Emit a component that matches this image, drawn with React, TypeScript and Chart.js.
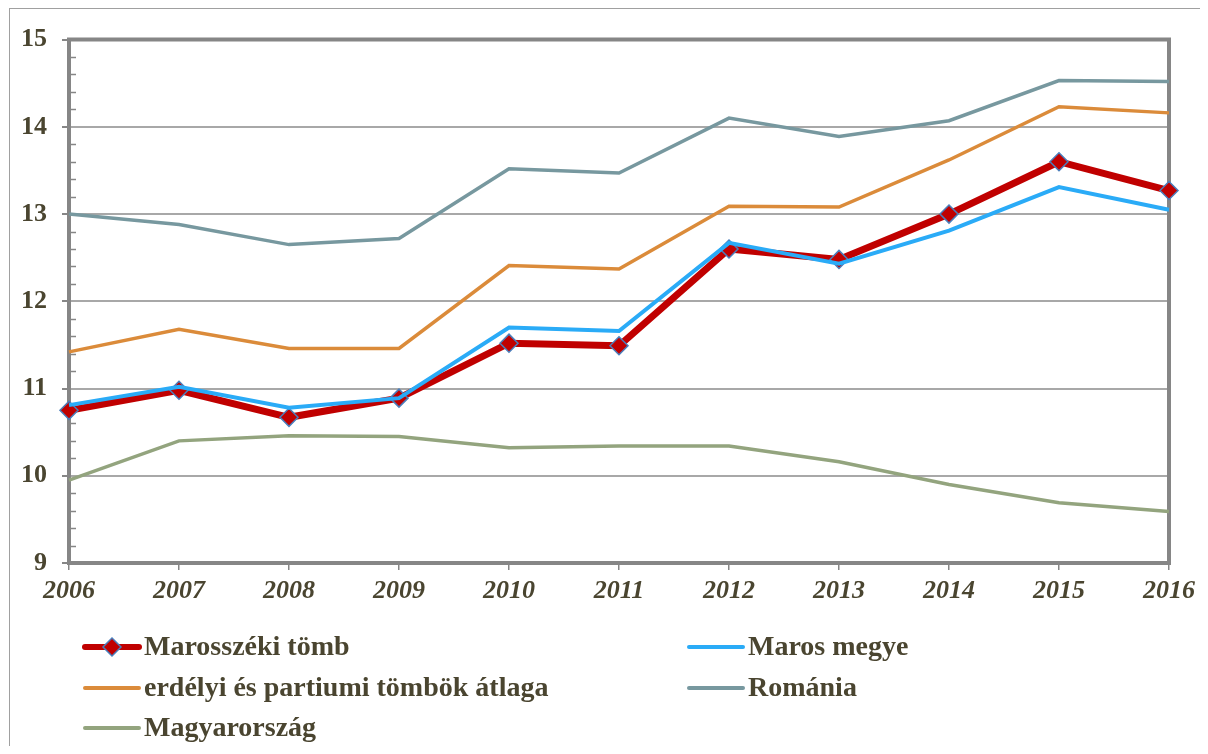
import React, { useEffect, useRef } from "react";
import { Chart, registerables } from "chart.js";

Chart.register(...registerables);

const years = ["2006", "2007", "2008", "2009", "2010", "2011", "2012", "2013", "2014", "2015", "2016"];
const marosszekiTomb = [10.75, 10.98, 10.67, 10.89, 11.52, 11.49, 12.6, 12.48, 13.0, 13.6, 13.27];
const marosMegye = [10.81, 11.02, 10.78, 10.89, 11.7, 11.66, 12.67, 12.43, 12.81, 13.31, 13.05];
const erdelyiAtlag = [11.42, 11.68, 11.46, 11.46, 12.41, 12.37, 13.09, 13.08, 13.62, 14.23, 14.16];
const romania = [13.0, 12.88, 12.65, 12.72, 13.52, 13.47, 14.1, 13.89, 14.07, 14.53, 14.52];
const magyarorszag = [9.95, 10.4, 10.46, 10.45, 10.32, 10.34, 10.34, 10.16, 9.9, 9.69, 9.59];
const seriesLabels = [
  "Marosszéki tömb",
  "Maros megye",
  "erdélyi és partiumi tömbök átlaga",
  "Románia",
  "Magyarország",
];

const FONT = "'Liberation Serif', 'Times New Roman', serif";
const TEXT = "#4a4530";
const AXIS = "#868686";
const GRID = "#a8a8a8";

const framePlugin = {
  id: "frame",
  beforeDatasetsDraw(chart: any) {
    const { ctx, chartArea } = chart;
    const { left, right, top, bottom } = chartArea;
    ctx.save();
    ctx.strokeStyle = AXIS;
    ctx.lineWidth = 4;
    ctx.beginPath();
    ctx.moveTo(left - 2, top);
    ctx.lineTo(right, top);
    ctx.lineTo(right, bottom + 2);
    ctx.stroke();
    // minor ticks
    const y = chart.scales.y;
    ctx.lineWidth = 1.5;
    for (let i = 0; i <= 30; i++) {
      if (i % 5 === 0) continue;
      const v = 9 + i * 0.2;
      const py = Math.round(y.getPixelForValue(v)) + 0.5;
      ctx.beginPath();
      ctx.moveTo(left, py);
      ctx.lineTo(left + 7, py);
      ctx.stroke();
    }
    ctx.restore();
  },
};

const legendPlugin = {
  id: "customLegend",
  afterDraw(chart: any) {
    const { ctx } = chart;
    const ds = chart.data.datasets;
    const pos = [
      { x: 75, y: 638 },
      { x: 679, y: 638 },
      { x: 75, y: 679 },
      { x: 679, y: 679 },
      { x: 75, y: 719 },
    ];
    ctx.save();
    ds.forEach((d: any, i: number) => {
      const p = pos[i];
      ctx.strokeStyle = d.borderColor;
      ctx.lineWidth = i === 0 ? 6 : 4;
      ctx.lineCap = "round";
      ctx.beginPath();
      ctx.moveTo(p.x, p.y);
      ctx.lineTo(p.x + 54, p.y);
      ctx.stroke();
      if (i === 0) {
        const cx = p.x + 27;
        const r = 9;
        ctx.beginPath();
        ctx.moveTo(cx, p.y - r);
        ctx.lineTo(cx + r, p.y);
        ctx.lineTo(cx, p.y + r);
        ctx.lineTo(cx - r, p.y);
        ctx.closePath();
        ctx.fillStyle = d.pointBackgroundColor;
        ctx.fill();
        ctx.strokeStyle = d.pointBorderColor;
        ctx.lineWidth = 1.5;
        ctx.stroke();
      }
      ctx.fillStyle = TEXT;
      ctx.font = `bold 28px ${FONT}`;
      ctx.textBaseline = "middle";
      ctx.textAlign = "left";
      ctx.fillText(d.label, p.x + 59, p.y + 1);
    });
    ctx.restore();
  },
};

export default function App() {
  const ref = useRef<HTMLCanvasElement | null>(null);
  useEffect(() => {
    document.documentElement.style.overflow = "hidden";
    if (!ref.current) return;
    const lineDs = (label: string, data: number[], color: string, width: number, order: number) => ({
      label,
      data,
      borderColor: color,
      backgroundColor: color,
      borderWidth: width,
      pointRadius: 0,
      pointHoverRadius: 0,
      tension: 0,
      clip: false as any,
      order,
    });
    const chart = new Chart(ref.current, {
      type: "line",
      data: {
        labels: years,
        datasets: [
          {
            ...lineDs(seriesLabels[0], marosszekiTomb, "#C00000", 7, 5),
            pointStyle: "rectRot",
            pointRadius: 9,
            pointBackgroundColor: "#C00000",
            pointBorderColor: "#4A7EBB",
            pointBorderWidth: 1.5,
          },
          lineDs(seriesLabels[1], marosMegye, "#2AABF7", 4, 4),
          lineDs(seriesLabels[2], erdelyiAtlag, "#DB8B3A", 3.5, 3),
          lineDs(seriesLabels[3], romania, "#77989F", 3.5, 2),
          lineDs(seriesLabels[4], magyarorszag, "#93A47E", 3.5, 1),
        ],
      },
      options: {
        animation: false,
        responsive: false,
        maintainAspectRatio: false,
        layout: { padding: { top: 29, right: 39, left: 0, bottom: 0 } },
        plugins: {
          legend: { display: false },
          tooltip: { enabled: false },
        },
        scales: {
          x: {
            offset: false,
            afterFit: (s: any) => {
              s.height = 183;
            },
            grid: {
              drawOnChartArea: false,
              drawTicks: true,
              tickLength: 7,
              tickColor: AXIS,
              lineWidth: 1.5,
            },
            border: { display: true, color: AXIS, width: 4 },
            ticks: {
              color: TEXT,
              font: { family: FONT, size: 26, weight: "bold", style: "italic" },
              padding: 6,
              maxRotation: 0,
              autoSkip: false,
            },
          },
          y: {
            min: 9,
            max: 15,
            afterFit: (s: any) => {
              s.width = 59;
            },
            grid: {
              color: GRID,
              lineWidth: 2,
              drawTicks: true,
              tickLength: 7,
              tickColor: AXIS,
            },
            border: { display: true, color: AXIS, width: 4 },
            ticks: {
              stepSize: 1,
              color: TEXT,
              font: { family: FONT, size: 26, weight: "bold" },
              padding: 15,
            },
          },
        },
      },
      plugins: [framePlugin, legendPlugin],
    });
    return () => chart.destroy();
  }, []);
  return (
    <div
      style={{
        marginLeft: 1,
        width: 1199,
        height: 738,
        borderTop: "1px solid #a0a0a0",
        borderLeft: "1px solid #a0a0a0",
        boxSizing: "border-box",
        position: "relative",
        background: "#fff",
      }}
    >
      <canvas ref={ref} width={1198} height={737} style={{ display: "block" }} />
    </div>
  );
}
